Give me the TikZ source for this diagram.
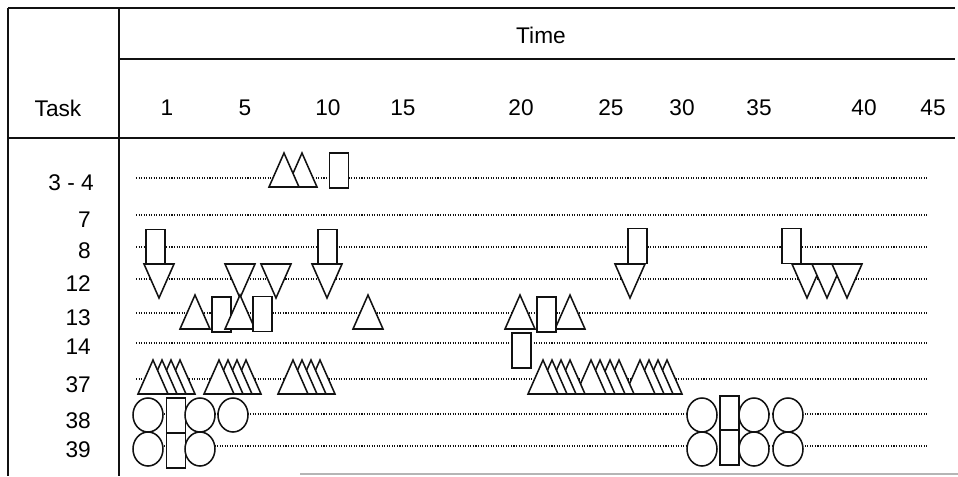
\documentclass[tikz,border=0pt]{standalone}
\usepackage{fontspec}
\setmainfont{Liberation Sans}
\usetikzlibrary{positioning,shapes.geometric}
\definecolor{inkBlack}{HTML}{111111}
\definecolor{scanGray}{HTML}{B5B5B5}
\tikzset{
    frameline/.style={draw=inkBlack,line width=1.5pt},
    rowline/.style={draw=inkBlack,line width=0.9pt,dash pattern=on 0.8pt off 1.1pt},
    eventshape/.style={draw=inkBlack,fill=white,line width=1.15pt,line join=miter},
    slotbox/.style={eventshape,rectangle,inner sep=0pt,
        minimum width=14.25pt,minimum height=26.25pt},
    ringnode/.style={eventshape,ellipse,inner sep=0pt,
        minimum width=22.5pt,minimum height=25.5pt},
    headtext/.style={font=\fontsize{17}{20}\selectfont,inner sep=0pt},
    tasklabel/.style={font=\fontsize{17}{20}\selectfont,inner sep=0pt,anchor=east}
}
% triangles, x and y in pixels of the chart
\newcommand{\upevent}[2]{\draw[eventshape] (#1-15,#2+17) -- (#1,#2-17) -- (#1+15,#2+17) -- cycle;}
\newcommand{\downevent}[2]{\draw[eventshape] (#1-15,#2-17) -- (#1,#2+17) -- (#1+15,#2-17) -- cycle;}

\begin{document}
\begin{tikzpicture}[x=0.75pt,y=-0.75pt]
    \useasboundingbox (0,0) rectangle (958,476);

    % frame
    \draw[frameline] (8,8) -- (955,8);
    \draw[frameline] (119,59) -- (955,59);
    \draw[frameline] (8,138) -- (955,138);
    \draw[frameline] (8,8) -- (8,476);
    \draw[frameline] (119,8) -- (119,476);
    \draw[draw=scanGray,line width=1pt] (300,474) -- (958,474);

    % header
    \node[headtext] (time) at (541,35) {Time};
    \node[headtext] (task) at (58,108) {Task};
    \foreach \t/\x in {1/167,5/245,10/328,15/403,20/521,25/611,30/682,35/759,40/864,45/933}
        \node[headtext] (tick\t) at (\x,108) {\t};

    % task rows
    \foreach \n/\ly in {34/178,7/215,8/247,12/279,13/313,14/343,37/379,38/414,39/446}{
        \coordinate (row\n w) at (136,\ly);
        \coordinate (row\n e) at (928,\ly);
        \draw[rowline] (row\n w) -- (row\n e);
    }
    \node[tasklabel] (lab34) at (94,183) {3 - 4};
    \node[tasklabel] (lab7) at (91,220) {7};
    \node[tasklabel] (lab8) at (91,251) {8};
    \node[tasklabel] (lab12) at (91,284) {12};
    \node[tasklabel] (lab13) at (91,318) {13};
    \node[tasklabel] (lab14) at (91,347) {14};
    \node[tasklabel] (lab37) at (91,385) {37};
    \node[tasklabel] (lab38) at (91,421) {38};
    \node[tasklabel] (lab39) at (91,450) {39};

    % 3 - 4
    \upevent{302}{170}
    \upevent{284}{170}
    \node[slotbox] (s34a) at (339,170.5) {};

    % 8 and 12
    \node[slotbox] (s8a) at (155.5,247) {};
    \node[slotbox] (s8b) at (327.5,247) {};
    \node[slotbox] (s8c) at (637.5,246) {};
    \node[slotbox] (s8d) at (791.5,246) {};
    \foreach \x in {159,240,276,327,630,807,827,847}{
        \downevent{\x}{281}
    }

    % 13
    \node[slotbox] (s13a) at (221.5,314.5) {};
    \foreach \x in {195,240,368,520,570}{
        \upevent{\x}{312}
    }
    \node[slotbox] (s13b) at (262.5,314) {};
    \node[slotbox] (s13c) at (546.5,314.5) {};

    % 14
    \node[slotbox] (s14a) at (521.5,350.5) {};

    % 37
    \foreach \x in {667,658,649,640,619,610,600,591,570,561,552,543,320,311,302,293,246,237,228,219,180,171,162,153}{
        \upevent{\x}{377}
    }

    % 38 and 39
    \node[slotbox] (s38a) at (176,415.5) {};
    \node[slotbox] (s39a) at (176,450.5) {};
    \node[slotbox] (s38b) at (729.5,413.5) {};
    \node[slotbox] (s39b) at (729.5,447.5) {};
    \foreach \x/\k in {148/a,200/b,233/c,702/d,754/e,788/f}{
        \node[ringnode] (c38\k) at (\x,415) {};
    }
    \foreach \x/\k in {148/a,200/b,702/d,754/e,788/f}{
        \node[ringnode] (c39\k) at (\x,449) {};
    }
\end{tikzpicture}
\end{document}
